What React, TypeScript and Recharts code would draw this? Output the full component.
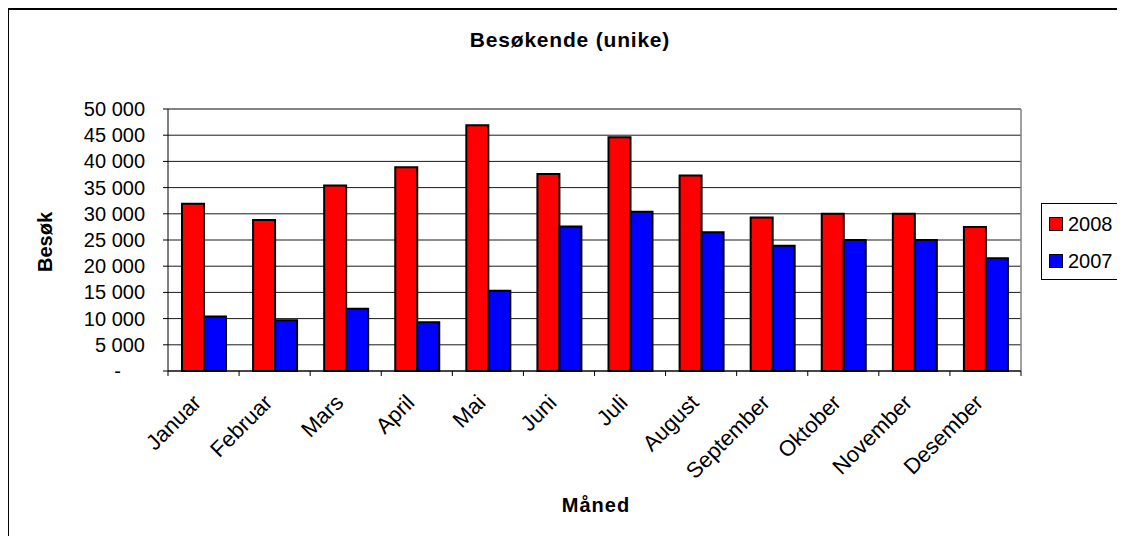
import { BarChart, Bar, XAxis, YAxis, CartesianGrid, Legend, usePlotArea } from 'recharts';

const months = ['Januar', 'Februar', 'Mars', 'April', 'Mai', 'Juni', 'Juli', 'August', 'September', 'Oktober', 'November', 'Desember'];
const visits2008 = [31900, 28800, 35400, 38900, 46900, 37600, 44600, 37300, 29300, 30000, 30000, 27500];
const visits2007 = [10400, 9700, 11900, 9300, 15300, 27600, 30400, 26500, 23900, 25000, 25000, 21500];
const yTicks = [0, 5000, 10000, 15000, 20000, 25000, 30000, 35000, 40000, 45000, 50000];
const seriesNames = ['2008', '2007'];
const seriesColors = ['#ff0000', '#0000ff'];

const data = months.map((m, i) => ({ month: m, v2008: visits2008[i], v2007: visits2007[i] }));

const FONT = '"Liberation Sans", Arial, sans-serif';

const fmt = (v: number) => (v === 0 ? '-' : `${Math.floor(v / 1000)} 000`);

function YTick(props: any) {
  const { x, y, payload } = props;
  const zero = payload.value === 0;
  return (
    <text x={zero ? x - 24 : x} y={y} dy="0.35em" textAnchor="end" fontSize={20} fontFamily={FONT} fill="#000">
      {fmt(payload.value)}
    </text>
  );
}

function XTick(props: any) {
  const { x, y, payload, index, width } = props;
  const band = width / months.length;
  const axisY = y - 5;
  return (
    <g>
      <line x1={x - band / 2} x2={x - band / 2} y1={axisY} y2={axisY + 5} stroke="#000" />
      {index === months.length - 1 && (
        <line x1={x + band / 2} x2={x + band / 2} y1={axisY} y2={axisY + 5} stroke="#000" />
      )}
      <text
        transform={`translate(${x - 1}, ${y + 28}) rotate(-45)`}
        textAnchor="end"
        fontSize={22}
        fontFamily={FONT}
        fill="#000"
      >
        {payload.value}
      </text>
    </g>
  );
}

function PlotFrame() {
  const area = usePlotArea();
  if (!area) return null;
  const { x, y, width, height } = area;
  return (
    <g>
      <line x1={x} x2={x + width} y1={y} y2={y} stroke="#808080" strokeWidth={1.5} />
      <line x1={x + width} x2={x + width} y1={y} y2={y + height} stroke="#808080" strokeWidth={1.5} />
      <text x={570} y={47} textAnchor="middle" fontSize={21} fontWeight="bold" letterSpacing={0.8} fontFamily={FONT} fill="#000">
        Besøkende (unike)
      </text>
    </g>
  );
}

function LegendBox() {
  return (
    <div style={{ width: 82, height: 75, border: '1px solid #000', background: '#fff', fontFamily: FONT, position: 'relative' }}>
      {seriesNames.map((name, i) => (
        <div key={name} style={{ position: 'absolute', left: 7, top: 13 + i * 37, display: 'flex', alignItems: 'center' }}>
          <span style={{ width: 12, height: 12, background: seriesColors[i], border: '1px solid #000', display: 'inline-block' }} />
          <span style={{ fontSize: 20, marginLeft: 5, lineHeight: '14px' }}>{name}</span>
        </div>
      ))}
    </div>
  );
}

export default function App() {
  return (
    <div style={{ margin: -8, width: 1125, height: 544, position: 'relative', overflow: 'hidden', background: '#fff' }}>
      <div style={{ position: 'absolute', left: 0, top: 0 }}>
        <BarChart
          width={1125}
          height={544}
          data={data}
          margin={{ top: 109, right: 104, bottom: 0, left: 0 }}
          barCategoryGap={14}
          barGap={0}
        >
          <CartesianGrid vertical={false} stroke="#000" strokeOpacity={0.9} />
          <XAxis
            dataKey="month"
            height={173}
            tickSize={5}
            tickMargin={0}
            tickLine={false}
            axisLine={{ stroke: '#000' }}
            tick={<XTick />}
            interval={0}
            label={{
              content: () => (
                <text x={596} y={512} textAnchor="middle" fontSize={20} fontWeight="bold" letterSpacing={1} fontFamily={FONT} fill="#000">
                  Måned
                </text>
              ),
            }}
          />
          <YAxis
            width={168}
            domain={[0, 50000]}
            ticks={yTicks}
            interval={0}
            tickSize={5}
            tickMargin={18}
            axisLine={{ stroke: '#000' }}
            tickLine={{ stroke: '#000' }}
            tick={<YTick />}
            label={{
              content: () => (
                <text transform="translate(52, 242) rotate(-90)" textAnchor="middle" fontSize={20} fontWeight="bold" fontFamily={FONT} fill="#000">
                  Besøk
                </text>
              ),
            }}
          />
          <Legend
            layout="vertical"
            align="center"
            verticalAlign="middle"
            wrapperStyle={{ left: 1041, top: 203, width: 84 }}
            content={<LegendBox />}
          />
          <Bar dataKey="v2008" name={seriesNames[0]} fill={seriesColors[0]} stroke="#000" strokeWidth={2} isAnimationActive={false} />
          <Bar dataKey="v2007" name={seriesNames[1]} fill={seriesColors[1]} stroke="#000" strokeWidth={2} isAnimationActive={false} />
          <PlotFrame />
        </BarChart>
      </div>
      <div
        style={{
          position: 'absolute',
          left: 7,
          top: 8,
          width: 1300,
          height: 800,
          borderTop: '2px solid #000',
          borderLeft: '2px solid #000',
          pointerEvents: 'none',
        }}
      />
    </div>
  );
}
